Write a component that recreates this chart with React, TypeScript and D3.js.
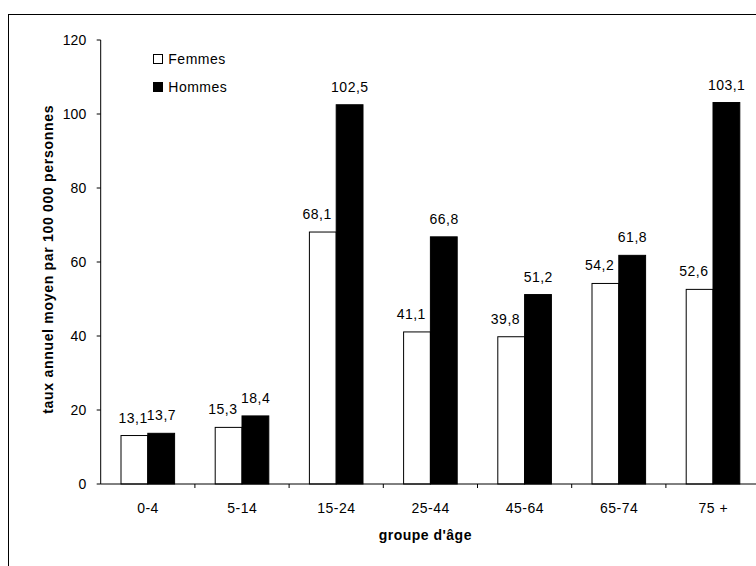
import React from "react";
import * as d3 from "d3";

const categories = ["0-4", "5-14", "15-24", "25-44", "45-64", "65-74", "75 +"];
const femmes = [13.1, 15.3, 68.1, 41.1, 39.8, 54.2, 52.6];
const hommes = [13.7, 18.4, 102.5, 66.8, 51.2, 61.8, 103.1];
const seriesNames = ["Femmes", "Hommes"];
const yTicks = [0, 20, 40, 60, 80, 100, 120];

const W = 756;
const H = 566;
const x0 = 100.7;
const band = 94.2;
const yTop = 40;
const yBottom = 484;
const font = "'Liberation Sans', Arial, sans-serif";

export default function App() {
  const x = d3
    .scaleBand<string>()
    .domain(categories)
    .range([x0, x0 + band * categories.length])
    .paddingInner(0)
    .paddingOuter(0);
  const y = d3.scaleLinear().domain([0, 120]).range([yBottom, yTop]);
  const barW = 26.8;
  const fmt = (v: number) => d3.format(".1f")(v).replace(".", ",");
  const series = [
    { name: seriesNames[0], values: femmes, fill: "#ffffff", dx: -6 },
    { name: seriesNames[1], values: hommes, fill: "#000000", dx: 0 },
  ];

  return (
    <svg
      width={W}
      height={H}
      style={{ position: "absolute", left: 0, top: 0, background: "#fff" }}
      fontFamily={font}
    >
      <rect x={8.5} y={14.5} width={W} height={H} fill="#fff" stroke="#000" strokeWidth={1} />
      {/* bars */}
      {series.map((s, si) =>
        s.values.map((v, i) => {
          const cx = (x(categories[i]) as number) + x.bandwidth() / 2;
          const bx = si === 0 ? cx - barW : cx;
          const dx = si === 0 && i === 0 ? -1.5 : s.dx;
          return (
            <g key={s.name + i}>
              <rect
                x={bx}
                y={y(v)}
                width={barW}
                height={yBottom - y(v)}
                fill={s.fill}
                stroke="#000"
                strokeWidth={1}
              />
              <text
                x={bx + barW / 2 + dx + 0.25}
                y={y(v) - 13}
                textAnchor="middle"
                fontSize={14}
                letterSpacing={0.5}
                fill="#000"
              >
                {fmt(v)}
              </text>
            </g>
          );
        })
      )}
      {/* y axis */}
      <line x1={x0} x2={x0} y1={yTop} y2={yBottom} stroke="#000" strokeWidth={1} />
      {yTicks.map((t) => (
        <g key={t}>
          <line x1={x0 - 4} x2={x0} y1={y(t)} y2={y(t)} stroke="#000" strokeWidth={1} />
          <text x={x0 - 14.5} y={y(t) + 5} textAnchor="end" fontSize={14} fill="#000">
            {t}
          </text>
        </g>
      ))}
      {/* x axis */}
      <line x1={x0} x2={x0 + band * categories.length} y1={yBottom} y2={yBottom} stroke="#000" strokeWidth={1} />
      {categories.map((c, i) => (
        <g key={c}>
          {i > 0 && (
            <line
              x1={x(c) as number}
              x2={x(c) as number}
              y1={yBottom}
              y2={yBottom + 4}
              stroke="#000"
              strokeWidth={1}
            />
          )}
          <text
            x={(x(c) as number) + x.bandwidth() / 2 + 0.25}
            y={yBottom + 29}
            textAnchor="middle"
            fontSize={14}
            letterSpacing={0.5}
            fill="#000"
          >
            {c}
          </text>
        </g>
      ))}
      {/* axis titles */}
      <text x={425.3} y={540} textAnchor="middle" fontSize={14} letterSpacing={0.5} fontWeight="bold" fill="#000">
        groupe d'âge
      </text>
      <text
        transform={`translate(52.5,259.3) rotate(-90)`}
        textAnchor="middle"
        fontSize={14}
        letterSpacing={0.7}
        fontWeight="bold"
        fill="#000"
      >
        taux annuel moyen par 100 000 personnes
      </text>
      {/* legend */}
      {series.map((s, i) => (
        <g key={s.name} transform={`translate(153.5,${54.5 + i * 28})`}>
          <rect width={9} height={9} fill={s.fill} stroke="#000" strokeWidth={1} />
          <text x={14.8} y={9} fontSize={14} letterSpacing={0.5} fill="#000">
            {s.name}
          </text>
        </g>
      ))}
    </svg>
  );
}
